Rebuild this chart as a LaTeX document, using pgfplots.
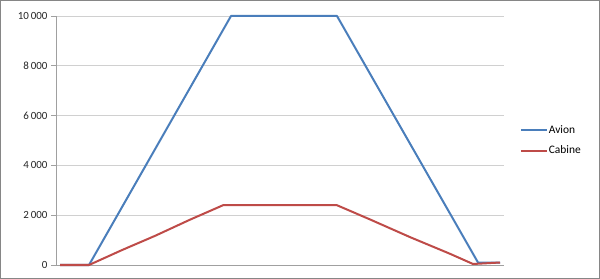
\documentclass[border=0pt]{standalone}
\usepackage{pgfplots}
\pgfplotsset{compat=1.18}
\usepackage{fontspec}
\setmainfont{Carlito}
\definecolor{avion}{HTML}{4A7EBB}
\definecolor{cabine}{HTML}{BE4B48}
\definecolor{gridc}{HTML}{D0D0D0}
\definecolor{axisc}{HTML}{A0A0A0}
\definecolor{framec}{HTML}{868686}
\begin{document}
\begin{tikzpicture}
\useasboundingbox (0,0) rectangle (600bp,279bp);
\draw[framec, line width=1.2bp] (0.6bp,0.6bp) rectangle (599.4bp,278.4bp);
\begin{axis}[
  at={(56bp,14bp)}, anchor=origin,
  scale only axis, width=448bp, height=249bp,
  xmin=56, xmax=504, ymin=0, ymax=10000,
  axis x line*=bottom, axis y line*=left,
  axis line style={axisc, line width=0.8bp, -},
  xtick=\empty,
  ytick={0,2000,4000,6000,8000,10000},
  ymajorgrids, grid style={gridc, line width=0.8bp},
  tick style={axisc, line width=0.8bp},
  major tick length=5bp, tick align=outside,
  yticklabel style={font=\fontsize{11}{13}\selectfont, text=black!85},
  /pgf/number format/assume math mode=true,
  /pgf/number format/1000 sep={\,},
  scaled y ticks=false,
  clip=false,
  legend style={draw=none, fill=none, at={(1.035,0.50)}, anchor=west,
    font=\fontsize{11.5}{13}\selectfont, row sep=9bp, inner sep=0pt,
    nodes={inner sep=1bp}},
  legend cell align=left,
  legend image code/.code={\draw[#1] (0bp,0bp) -- (26bp,0bp);},
]
\addplot[avion, line width=2bp, line join=round] coordinates {
 (60,0) (89,0) (231,10000) (337,10000) (478,100) (500,100)};
\addlegendentry{Avion}
\addplot[cabine, line width=2bp, line join=round] coordinates {
 (60,0) (89,0) (122,600) (155,1170) (190,1820) (223,2400) (337,2400) (370,1830) (410,1120) (450,450) (473,40) (500,100)};
\addlegendentry{Cabine}
\end{axis}
\end{tikzpicture}
\end{document}
